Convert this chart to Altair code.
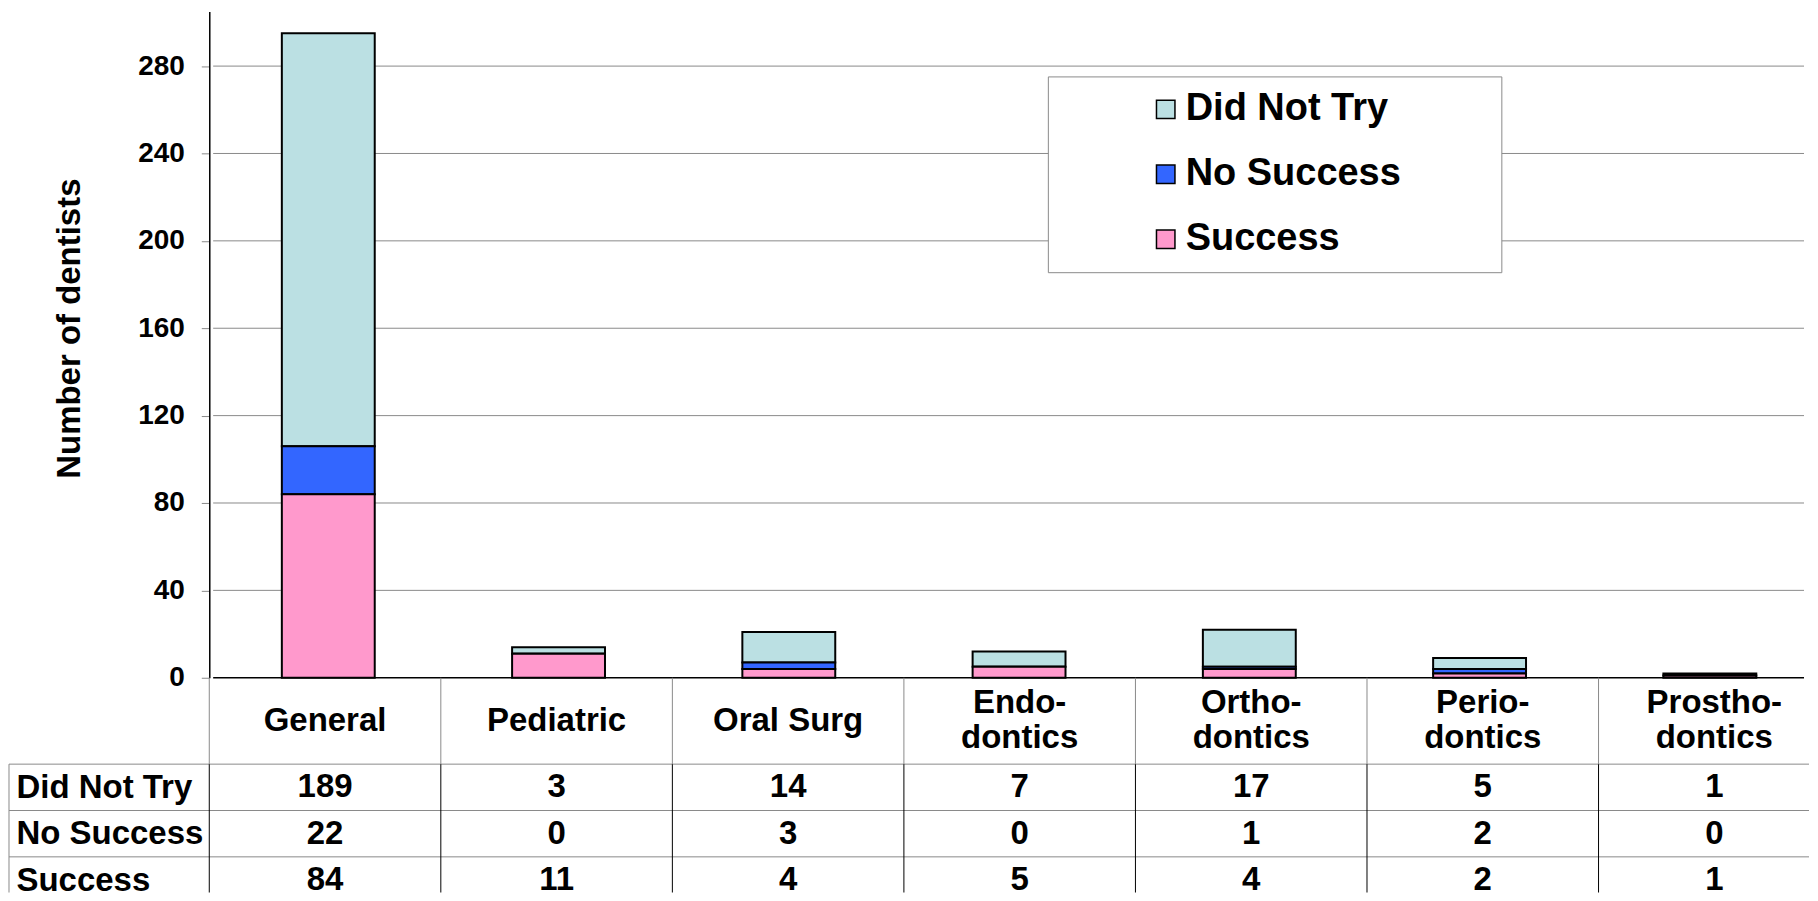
import json
import altair as alt
import pandas as pd

# ---------------- data ----------------
categories = ["General", "Pediatric", "Oral Surg", "Endo-\ndontics",
              "Ortho-\ndontics", "Perio-\ndontics", "Prostho-\ndontics"]
series = ["Did Not Try", "No Success", "Success"]
did_not_try = [189, 3, 14, 7, 17, 5, 1]
no_success = [22, 0, 3, 0, 1, 2, 0]
success = [84, 11, 4, 5, 4, 2, 1]
y_ticks = [0, 40, 80, 120, 160, 200, 240, 280]
colors = ["#BBE0E3", "#3366FF", "#FF99CC"]

# ---------------- layout ----------------
FONT = "Liberation Sans"
GRID = "#8a8a8a"
COL_PX = 231.8                 # pixels per category column
LABEL_PX = 200.5               # width of the row-label column
PLOT_W = 1802
LABEL_COL = LABEL_PX / COL_PX
X_MIN = -LABEL_COL
X_MAX = X_MIN + PLOT_W / COL_PX
Y_MAX = 305
TOP_H = 667
TABLE_H = 215
ROW_PX = 46.4
HEADER = 86.5 / ROW_PX
TABLE_MAX = TABLE_H / ROW_PX - HEADER
LINE_H = 35

values = {"Did Not Try": did_not_try, "No Success": no_success, "Success": success}
stack_rank = {"Success": 0, "No Success": 1, "Did Not Try": 2}

bar_rows = []
for i, cat in enumerate(categories):
    for s in series:
        bar_rows.append({"cat": cat, "pos": i + 0.5, "series": s,
                         "value": values[s][i], "rank": stack_rank[s]})
bars_df = pd.DataFrame(bar_rows)

grid_df = pd.DataFrame({"y": y_ticks[1:], "x": 0.0, "x2": X_MAX})
zero_df = pd.DataFrame({"y": [0], "x": [0.0], "x2": [X_MAX]})

xs = alt.Scale(domain=[X_MIN, X_MAX], nice=False, zero=False)
ys = alt.Scale(domain=[0, Y_MAX], nice=False)

yaxis = alt.Axis(values=y_ticks, offset=-LABEL_PX, grid=False,
                 domainColor="black", domainWidth=1.5,
                 tickColor=GRID, tickSize=8, tickWidth=1,
                 labelFontSize=28, labelFontWeight="bold", labelColor="black",
                 labelPadding=17,
                 title="Number of dentists", titleFontSize=33,
                 titleFontWeight="bold", titleColor="black",
                 titleX=79 - 208.5, titleY=317, titleAngle=270,
                 titleBaseline="alphabetic", titleAlign="center")

grid = alt.Chart(grid_df).mark_rule(color=GRID, strokeWidth=1).encode(
    x=alt.X("x:Q", scale=xs, axis=None), x2="x2:Q",
    y=alt.Y("y:Q", scale=ys, axis=yaxis))

legend = alt.Legend(orient="none", legendX=1040, legendY=65,
                    title=" ", titleOrient="right", titlePadding=87,
                    titleFontSize=10,
                    fillColor="white", strokeColor=GRID, padding=14,
                    symbolType="square", symbolSize=342,
                    symbolStrokeColor="black", symbolStrokeWidth=1.5,
                    symbolOffset=85, labelOffset=1,
                    labelFontSize=38, labelFontWeight="bold", labelColor="black",
                    labelLimit=500, rowPadding=27)

bars = alt.Chart(bars_df).mark_bar(size=93, stroke="black", strokeWidth=2).encode(
    x=alt.X("pos:Q", scale=xs, axis=None),
    y=alt.Y("value:Q", stack="zero", scale=ys, axis=yaxis),
    color=alt.Color("series:N", scale=alt.Scale(domain=series, range=colors),
                    legend=legend),
    order=alt.Order("rank:Q", sort="ascending"))

zero = alt.Chart(zero_df).mark_rule(color="black", strokeWidth=1.5).encode(
    x=alt.X("x:Q", scale=xs, axis=None), x2="x2:Q",
    y=alt.Y("y:Q", scale=ys, axis=yaxis))

top = alt.layer(grid, bars, zero).properties(width=PLOT_W, height=TOP_H)

# ---------------- table ----------------
header_df = pd.DataFrame({"name": categories,
                          "pos": [i + 0.5 for i in range(len(categories))],
                          "nlines": [c.count("\n") + 1 for c in categories],
                          "y": -HEADER / 2})
cell_rows = []
for r, s in enumerate(series):
    for i, v in enumerate(values[s]):
        cell_rows.append({"pos": i + 0.5, "y": r + 0.5, "txt": str(v)})
cells_df = pd.DataFrame(cell_rows)

line_rows = []
for r in range(len(series)):
    line_rows.append({"x": X_MIN, "x2": X_MAX, "y": r, "y2": r, "c": GRID})
for i in range(len(categories)):
    line_rows.append({"x": i, "x2": i, "y": 0, "y2": TABLE_MAX, "c": "black"})
    line_rows.append({"x": i, "x2": i, "y": -HEADER, "y2": 0, "c": GRID})
line_rows.append({"x": X_MIN, "x2": X_MIN, "y": 0, "y2": TABLE_MAX, "c": GRID})
lines_df = pd.DataFrame(line_rows)

yb = alt.Scale(domain=[-HEADER, TABLE_MAX], reverse=True, nice=False, zero=False)
row_axis = alt.Axis(values=[r + 0.5 for r in range(len(series))],
                    labelExpr=f"{json.dumps(series)}[floor(datum.value)]",
                    domain=False, ticks=False, tickSize=0, grid=False,
                    labelAlign="left", labelBaseline="middle", labelPadding=-7,
                    labelFontSize=33, labelFontWeight="bold", labelColor="black",
                    labelLimit=400, title=None)

lines = alt.Chart(lines_df).mark_rule(strokeWidth=1).encode(
    x=alt.X("x:Q", scale=xs, axis=None), x2="x2:Q",
    y=alt.Y("y:Q", scale=yb, axis=row_axis), y2="y2:Q",
    color=alt.Color("c:N", scale=None))

header_enc = dict(
    x=alt.X("pos:Q", scale=xs, axis=None),
    y=alt.Y("y:Q", scale=yb, axis=row_axis),
    text="name:N")
header_style = dict(fontSize=33, fontWeight="bold", color="black",
                    align="center", baseline="middle", lineBreak="\n",
                    lineHeight=LINE_H)

header_one = alt.Chart(header_df).transform_filter("datum.nlines == 1").mark_text(
    **header_style).encode(**header_enc)
header_two = alt.Chart(header_df).transform_filter("datum.nlines == 2").mark_text(
    dy=-LINE_H / 2, **header_style).encode(**header_enc)

cells = alt.Chart(cells_df).mark_text(
    fontSize=33, fontWeight="bold", color="black", align="center",
    baseline="middle").encode(
    x=alt.X("pos:Q", scale=xs, axis=None),
    y=alt.Y("y:Q", scale=yb, axis=row_axis),
    text="txt:N")

table = alt.layer(lines, header_one, header_two, cells).properties(
    width=PLOT_W, height=TABLE_H)

chart = alt.vconcat(top, table, spacing=0, bounds="flush").properties(
    padding={"left": 0, "top": 3, "right": 0, "bottom": 0}
).configure(font=FONT).configure_view(stroke=None)

chart.save("out.html", embed_options={"renderer": "svg", "actions": False})
